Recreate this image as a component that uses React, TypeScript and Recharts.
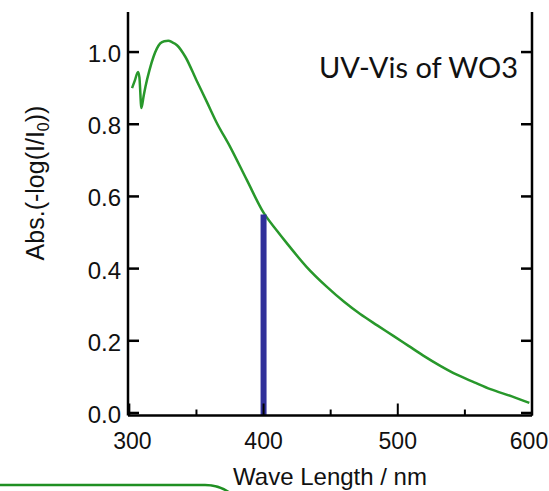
import { ComposedChart, Line, XAxis, YAxis, ReferenceLine } from 'recharts'

// UV-Vis absorption spectrum of WO3
const wavelength = [
  302, 304, 306.5, 307.5, 309, 310.5, 312, 315, 318, 323, 326, 329, 332, 335.5, 341.7,
  350, 358, 365, 375, 387.6, 400, 410, 417, 432, 447, 460, 472, 485, 497, 508, 519,
  532, 544, 557, 569, 585, 598,
]
const absorbance = [
  0.9, 0.92, 0.945, 0.93, 0.845, 0.875, 0.904, 0.95, 0.987, 1.024, 1.03, 1.031, 1.027, 1.019, 0.987,
  0.922, 0.86, 0.805, 0.738, 0.645, 0.555, 0.505, 0.472, 0.405, 0.35, 0.308, 0.274, 0.242, 0.213, 0.186, 0.159,
  0.13, 0.106, 0.085, 0.066, 0.046, 0.028,
]

const xTicks = [300, 350, 400, 450, 500, 550, 600]
const xTickLabels = ['300', '400', '500', '600']
const yTicks = [0, 0.2, 0.4, 0.6, 0.8, 1.0]

const markerWavelength = 400
const markerTop = 0.55

const X_MIN = 299
const X_MAX = 600
const Y_MIN = -0.007
const Y_MAX = 1.111

const FONT = '"Liberation Sans", Arial, sans-serif'
const GREEN = '#28982b'
const BLUE = '#30309a'

const data = wavelength.map((w, i) => ({ w, a: absorbance[i] }))

const XTick = ({ x, y, payload }: any) => {
  const label = String(payload.value)
  const major = xTickLabels.includes(label)
  // the outer labels sit a little inside the frame, as in the original
  const nudge = payload.value === 600 ? -3 : payload.value === 300 ? 3 : 0
  return (
    <g>
      <line x1={x} y1={y} x2={x} y2={y - (major ? 12 : 6)} stroke="#000" strokeWidth={2} />
      {major && (
        <text x={x + nudge} y={y + 33} textAnchor="middle" fontFamily={FONT} fontSize={23} fill="#111">
          {label}
        </text>
      )}
    </g>
  )
}

const YTickLeft = ({ x, y, payload }: any) => (
  <g>
    <line x1={x} y1={y} x2={x + 11} y2={y} stroke="#000" strokeWidth={2.5} />
    <text x={x - 7} y={y + 10} textAnchor="end" fontFamily={FONT} fontSize={24} fill="#111">
      {Number(payload.value).toFixed(1)}
    </text>
  </g>
)

const YTickRight = ({ x, y }: any) => (
  <line x1={x} y1={y} x2={x - 11} y2={y} stroke="#000" strokeWidth={2.5} />
)

const YLabel = () => (
  <text
    x={44}
    y={183}
    transform="rotate(-90, 44, 183)"
    textAnchor="middle"
    fontFamily={FONT}
    fontSize={25}
    fill="#111"
  >
    Abs.(-log(I/I
    <tspan dy={5} fontSize={16}>0</tspan>
    <tspan dy={-5}>))</tspan>
  </text>
)

const XLabel = ({ viewBox }: any) => (
  <text
    x={viewBox.x + viewBox.width / 2}
    y={485}
    textAnchor="middle"
    fontFamily={FONT}
    fontSize={24}
    fill="#111"
  >
    Wave Length / nm
  </text>
)

export default function App() {
  return (
    <div style={{ position: 'absolute', left: 0, top: 0, width: 549, height: 491, background: '#fff' }}>
      <ComposedChart width={549} height={491} data={data} margin={{ top: 12, right: 0, bottom: 0, left: 0 }}>
        <XAxis
          dataKey="w"
          type="number"
          domain={[X_MIN, X_MAX]}
          ticks={xTicks}
          allowDataOverflow
          height={75.5}
          tickSize={0}
          tickMargin={0}
          tickLine={false}
          tick={<XTick />}
          axisLine={{ stroke: '#000', strokeWidth: 2.5 }}
          label={<XLabel />}
        />
        <YAxis
          yAxisId="l"
          type="number"
          domain={[Y_MIN, Y_MAX]}
          ticks={yTicks}
          allowDataOverflow
          width={128}
          tickSize={0}
          tickMargin={0}
          tickLine={false}
          tick={<YTickLeft />}
          axisLine={{ stroke: '#000', strokeWidth: 2.5 }}
          label={<YLabel />}
        />
        <YAxis
          yAxisId="r"
          orientation="right"
          type="number"
          domain={[Y_MIN, Y_MAX]}
          ticks={yTicks}
          allowDataOverflow
          width={17}
          tickSize={0}
          tickMargin={0}
          tickLine={false}
          tick={<YTickRight />}
          axisLine={{ stroke: '#000', strokeWidth: 2.5 }}
        />
        <Line
          yAxisId="l"
          dataKey="a"
          type="monotone"
          stroke={GREEN}
          strokeWidth={2.5}
          dot={false}
          isAnimationActive={false}
        />
        <ReferenceLine
          yAxisId="l"
          segment={[
            { x: markerWavelength, y: Y_MIN },
            { x: markerWavelength, y: markerTop },
          ]}
          stroke={BLUE}
          strokeWidth={6}
        />
      </ComposedChart>
      <svg width={549} height={491} style={{ position: 'absolute', left: 0, top: 0, pointerEvents: 'none' }}>
        <text x={518} y={78} textAnchor="end" fontFamily="Lato, sans-serif" fontSize={29} fill="#111">
          UV-Vis of WO3
        </text>
        <path d="M -2 485 L 205 485 C 215 485, 222 487, 230 493" fill="none" stroke="#1f8f22" strokeWidth={2.5} />
      </svg>
    </div>
  )
}
